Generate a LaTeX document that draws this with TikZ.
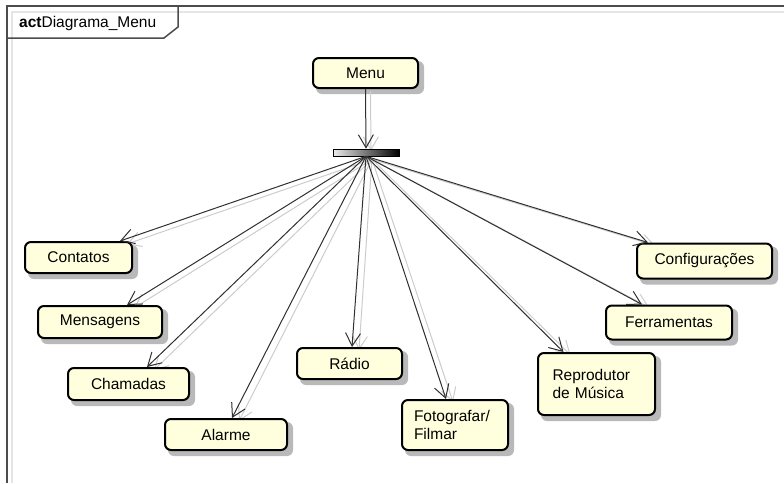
\documentclass[tikz,border=0pt]{standalone}
\usepackage{fontspec}
\setmainfont{Liberation Sans}
\usetikzlibrary{arrows.meta,calc,backgrounds}
\definecolor{actfill}{RGB}{255,255,222}
\definecolor{edgecol}{RGB}{48,48,48}
\definecolor{shadowcol}{RGB}{185,185,185}
\tikzset{
  action/.style={draw=black, line width=2pt, rounded corners=6pt, fill=actfill,
    inner sep=0pt, font=\fontsize{15.5}{18}\selectfont},
  multi/.style={align=left},
  forkbar/.style={draw=black, line width=.6pt, left color=gray!15, right color=black,
    minimum width=66pt, minimum height=7pt, inner sep=0pt},
  flow/.style={draw=edgecol, line width=1pt, -{Straight Barb[length=13pt,width=15pt,line width=1pt]}},
  ghost/.style={draw=gray!40, line width=1pt, -{Straight Barb[length=13pt,width=15pt,line width=1pt]}},
  frameline/.style={draw=black!70, line width=1.5pt},
  frameshade/.style={draw=gray!20, line width=2pt}
}
\begin{document}
\begin{tikzpicture}[x=1pt, y=-1pt]
\useasboundingbox (0,0) rectangle (784,483);

% frame with its name tab
\draw[frameshade] (12,483) -- (12,12) -- (784,12);
\draw[frameline] (7,483) -- (7,6) -- (784,6);
\draw[frameline] (7,38) -- (164,38) -- (178,27) -- (178,6);
\node[anchor=base west, inner sep=0pt, font=\fontsize{15.5}{18}\selectfont] (title) at (19,27)
  {\textbf{act}Diagrama\_Menu};

% actions
\node[action, minimum width=105pt, minimum height=30pt] (menu) at (365.5,73) {Menu};
\node[forkbar] (fork) at (366,152.5) {};

\node[action, minimum width=107pt, minimum height=31pt] (contatos) at (78.5,257.5) {Contatos};
\node[action, minimum width=124pt, minimum height=32pt] (mensagens) at (100,322) {Mensagens};
\node[action, minimum width=121pt, minimum height=32pt] (chamadas) at (128.5,384) {Chamadas};
\node[action, minimum width=122pt, minimum height=31pt] (alarme) at (226,434.5) {Alarme};
\node[action, minimum width=105pt, minimum height=31pt] (radio) at (349.5,363.5) {Rádio};
\node[action, multi, minimum width=106pt, minimum height=50pt, text width=82pt] (foto) at (455,425)
  {Fotografar/\\Filmar};
\node[action, multi, minimum width=117pt, minimum height=62pt, text width=88pt] (musica) at (596.5,384)
  {Reprodutor\\de Música};
\node[action, minimum width=126pt, minimum height=34pt] (ferramentas) at (669,322.5) {Ferramentas};
\node[action, minimum width=135pt, minimum height=35pt] (config) at (704.5,261) {Configurações};

\begin{scope}[on background layer]
  % shadows to the lower right of the action boxes
  \foreach \n in {menu,contatos,mensagens,chamadas,alarme,radio,foto,musica,ferramentas,config}{
    \path (\n.north west) coordinate (nw) (\n.south east) coordinate (se);
    \fill[shadowcol, rounded corners=6pt] ($(nw)+(4,4)$) rectangle ($(se)+(5,5)$);
  }
  % faint echo of the control flows
  \draw[ghost] ($(menu.south)+(5,2)$) -- ($(fork.north)+(5,2)$);
  \foreach \n/\dx in {contatos/41.5, mensagens/27, chamadas/18.5, alarme/6, radio/2.5,
                      foto/-9, musica/-33, ferramentas/-27, config/-56.5}
    \draw[ghost] ($(fork.south)+(6,3)$) -- ($(\n.north)+(\dx,0)+(7,3)$);
\end{scope}

% control flows
\draw[flow] (menu.south) -- (fork.north);
\foreach \n/\dx in {contatos/41.5, mensagens/27, chamadas/18.5, alarme/6, radio/2.5,
                    foto/-9, musica/-33, ferramentas/-27, config/-56.5}
  \draw[flow] (fork.south) -- ($(\n.north)+(\dx,0)$);
\end{tikzpicture}
\end{document}
